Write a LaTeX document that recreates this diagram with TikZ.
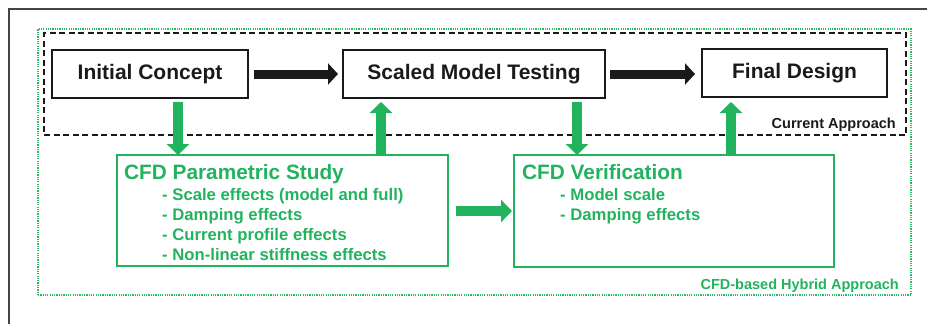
\documentclass[tikz,border=0pt]{standalone}
\usepackage{fontspec}
\setmainfont{Liberation Sans}
\usetikzlibrary{arrows.meta,calc}
\definecolor{cgreen}{HTML}{21B35E}
\definecolor{cdot}{HTML}{2DBA68}
\definecolor{cblack}{HTML}{1A1A1A}
\definecolor{cframe}{HTML}{444444}
\tikzset{
  mainbox/.style={draw=cblack, line width=2pt, minimum height=48pt, inner sep=0pt,
    font=\fontsize{21}{25}\selectfont\bfseries, text=cblack},
  greenbox/.style={draw=cgreen, line width=2pt, inner sep=0pt},
  blackarrow/.style={draw=cblack, line width=9pt, -{Triangle[width=21pt,length=10pt]}},
  greenarrow/.style={draw=cgreen, line width=10pt, -{Triangle[width=22pt,length=11pt]}},
  gtitle/.style={anchor=base west, inner sep=0pt, text=cgreen, font=\fontsize{20.8}{25}\selectfont\bfseries},
  gitem/.style={anchor=base west, inner sep=0pt, text=cgreen, font=\fontsize{16.7}{20}\selectfont\bfseries},
  grouplabel/.style={anchor=base east, inner sep=0pt, font=\fontsize{14.5}{17}\selectfont\bfseries},
}
\begin{document}
\begin{tikzpicture}[x=1pt,y=-1pt]
\useasboundingbox (0,0) rectangle (927,324);
% outer frame (partially visible)
\coordinate (fl) at (9,324);
\coordinate (ftl) at (9,9);
\coordinate (ftr) at (927,9);
\draw[cframe, line width=1.5pt] (fl) -- (ftl) -- (ftr);
% group boxes
\node[draw=cdot, line width=1.9pt, dash pattern=on 1.2pt off 1.1pt, minimum width=873pt, minimum height=266pt, inner sep=0pt] (hyb) at (474.5,162) {};
\node[draw=cblack, line width=2pt, dash pattern=on 6pt off 3.5pt, minimum width=862pt, minimum height=102pt, inner sep=0pt] (cur) at (475,84) {};
\node[grouplabel, text=cblack] (curlbl) at (896,128) {Current Approach};
\node[grouplabel, text=cgreen] (hyblbl) at (899,289) {CFD-based Hybrid Approach};
% main boxes
\node[mainbox, minimum width=196pt] (ic) at (150,74) {Initial Concept};
\node[mainbox, minimum width=262pt] (smt) at (474,74) {Scaled Model Testing};
\node[mainbox, minimum width=185pt] (fd) at (794.5,73) {Final Design};
% green boxes
\node[greenbox, minimum width=331pt, minimum height=111pt] (param) at (282.5,210.5) {};
\node[greenbox, minimum width=320pt, minimum height=112pt] (ver) at (674,211) {};
% texts in green boxes
\node[gtitle] (pt) at ([xshift=8pt,yshift=-25pt]param.north west) {CFD Parametric Study};
\node[gitem] (p1) at ([xshift=46pt,yshift=-46pt]param.north west) {- Scale effects (model and full)};
\node[gitem] (p2) at ([yshift=-20pt]p1.base west) {- Damping effects};
\node[gitem] (p3) at ([yshift=-20pt]p2.base west) {- Current profile effects};
\node[gitem] (p4) at ([yshift=-20pt]p3.base west) {- Non-linear stiffness effects};
\node[gtitle] (vt) at ([xshift=9pt,yshift=-25pt]ver.north west) {CFD Verification};
\node[gitem] (v1) at ([xshift=47pt,yshift=-46pt]ver.north west) {- Model scale};
\node[gitem] (v2) at ([yshift=-20pt]v1.base west) {- Damping effects};
% black arrows
\draw[blackarrow] ([xshift=5pt]ic.east) -- ([xshift=-4pt]smt.west);
\draw[blackarrow] ([xshift=4pt]smt.east |- smt.center) -- ([xshift=-6pt]fd.west |- smt.center);
% green arrows
\draw[greenarrow] ([xshift=28pt,yshift=-3pt]ic.south) -- ([xshift=28pt,yshift=-1pt]ic.south |- param.north);
\draw[greenarrow] ([xshift=-93pt,yshift=-2pt]smt.south |- param.north) -- ([xshift=-93pt,yshift=-3pt]smt.south);
\draw[greenarrow] ([xshift=103pt,yshift=-3pt]smt.south) -- ([xshift=103pt,yshift=-1pt]smt.south |- ver.north);
\draw[greenarrow] ([xshift=-63.5pt,yshift=-2pt]fd.south |- ver.north) -- ([xshift=-63.5pt,yshift=-4pt]fd.south);
\draw[greenarrow] ([xshift=7pt]param.east |- ver.center) -- ([xshift=-1pt]ver.west);
\end{tikzpicture}
\end{document}
